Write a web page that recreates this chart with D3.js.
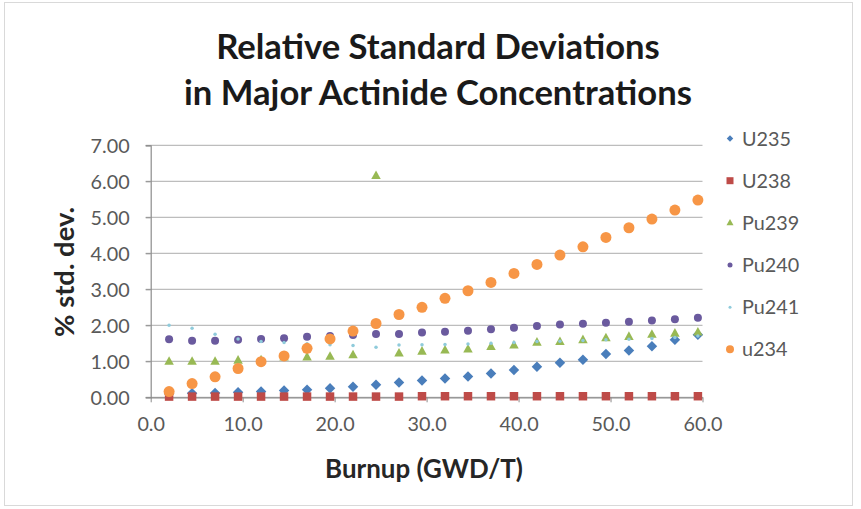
<!DOCTYPE html>
<html><head><meta charset="utf-8">
<script src="https://cdn.jsdelivr.net/npm/d3@7"></script>
<style>body{margin:0;background:#fff}svg{display:block}text{font-family:Lato,"Open Sans",sans-serif}</style>
</head><body>
<svg id="c" width="861" height="509"></svg>
<script>
const burnup = [2,4.5,7,9.5,12,14.5,17,19.5,22,24.5,27,29.5,32,34.5,37,39.5,42,44.5,47,49.5,52,54.5,57,59.5];
const U235  = [0.10,0.11,0.12,0.14,0.16,0.19,0.21,0.25,0.29,0.35,0.41,0.47,0.52,0.58,0.66,0.76,0.85,0.96,1.04,1.20,1.30,1.42,1.60,1.74];
const U238  = [0.02,0.02,0.02,0.02,0.02,0.02,0.02,0.02,0.02,0.02,0.02,0.03,0.03,0.03,0.03,0.03,0.03,0.03,0.03,0.03,0.03,0.03,0.03,0.03];
const Pu239 = [1.01,1.01,1.01,1.04,1.05,1.13,1.13,1.15,1.19,6.17,1.24,1.29,1.32,1.35,1.42,1.46,1.54,1.56,1.61,1.66,1.70,1.76,1.79,1.82];
const Pu240 = [1.61,1.57,1.57,1.60,1.62,1.64,1.68,1.70,1.73,1.76,1.76,1.80,1.82,1.85,1.89,1.93,1.98,2.02,2.04,2.07,2.10,2.13,2.17,2.21];
const Pu241 = [2.00,1.92,1.75,1.62,1.55,1.52,1.49,1.46,1.44,1.39,1.45,1.46,1.47,1.48,1.50,1.52,1.55,1.56,1.58,1.60,1.61,1.63,1.66,1.70];
const u234  = [0.16,0.38,0.57,0.80,0.99,1.15,1.36,1.62,1.84,2.05,2.30,2.50,2.75,2.96,3.19,3.44,3.69,3.95,4.18,4.44,4.71,4.95,5.20,5.48];
const seriesNames = ["U235","U238","Pu239","Pu240","Pu241","u234"];
const xTicks = [0,10,20,30,40,50,60];
const yTicks = [0,1,2,3,4,5,6,7];
const titleLines = ["Relative Standard Deviations","in Major Actinide Concentrations"];

const seriesValues = [U235,U238,Pu239,Pu240,Pu241,u234];
const styles = [
  {shape:"diamond", color:"#4A7EBB", size:10.5, lsize:6.5},
  {shape:"square", color:"#BE4B48", size:8.5, lsize:7},
  {shape:"triangle", color:"#98B954", size:9.5, lsize:7},
  {shape:"circle", color:"#6A5A9E", size:8, lsize:5},
  {shape:"circle", color:"#8FCBDB", size:3.5, lsize:3},
  {shape:"circle", color:"#F79646", size:11, lsize:8}
];

const svg = d3.select("#c");
svg.append("rect").attr("x",4.5).attr("y",2.5).attr("width",848).attr("height",503)
  .attr("fill","#fff").attr("stroke","#d9d9d9");

const x = d3.scaleLinear().domain([0,60]).range([150.7,702.5]);
const y = d3.scaleLinear().domain([0,7]).range([397.3,145.3]);

function fit(sel, target){
  sel.style("font-size","100px");
  const w = sel.node().getComputedTextLength();
  const fs = 100*target/w;
  sel.style("font-size", fs+"px");
  return fs;
}

const probe = svg.append("text").text("U238");
const baseFs = fit(probe, 49);
probe.remove();

// gridlines
svg.append("g").selectAll("line").data(yTicks).join("line")
  .attr("x1",145.7).attr("x2",702.5).attr("y1",d=>y(d)).attr("y2",d=>y(d))
  .attr("stroke","#bdbdbd").attr("stroke-width",1.2);

// y axis
const gy = svg.append("g").attr("transform","translate(150.7,0)")
  .call(d3.axisLeft(y).tickValues(yTicks).tickFormat(d3.format(".2f")).tickSize(5).tickPadding(16));
gy.select(".domain").attr("stroke","#8c8c8c").attr("stroke-width",1.2);
gy.selectAll(".tick line").attr("stroke","#8c8c8c");
gy.selectAll(".tick text").attr("fill","#595959").style("font-size",baseFs+"px")
  .style("font-family","Lato,sans-serif").attr("dy","0.36em");

// x axis
const gx = svg.append("g").attr("transform","translate(0,397.3)")
  .call(d3.axisBottom(x).tickValues(xTicks).tickFormat(d3.format(".1f")).tickSize(5).tickSizeOuter(0).tickPadding(22));
gx.select(".domain").attr("stroke","#8c8c8c").attr("stroke-width",1.2);
gx.selectAll(".tick line").attr("stroke","#8c8c8c");
gx.selectAll(".tick text").attr("fill","#595959").style("font-size",baseFs+"px")
  .style("font-family","Lato,sans-serif").attr("dy","0.36em");

function symbolFor(st, sz){
  const h = sz/2;
  if (st.shape==="diamond") return `M0,${-h}L${h},0L0,${h}L${-h},0Z`;
  if (st.shape==="square") return `M${-h},${-h}H${h}V${h}H${-h}Z`;
  if (st.shape==="triangle") return `M0,${-h}L${h},${h*0.8}L${-h},${h*0.8}Z`;
  return d3.symbol().type(d3.symbolCircle).size(Math.PI*h*h)();
}

// points
seriesValues.forEach((vals,i)=>{
  const st = styles[i];
  const path = symbolFor(st, st.size);
  svg.append("g").selectAll("path").data(vals).join("path")
    .attr("d", path)
    .attr("transform",(d,j)=>`translate(${x(burnup[j])},${y(d)})`)
    .attr("fill", st.color);
});

// legend
const legY = [138.5,180.7,222.5,265,307.3,349.3];
const lg = svg.append("g");
seriesNames.forEach((n,i)=>{
  const st = styles[i];
  lg.append("path").attr("d", symbolFor(st, st.lsize)).attr("transform",`translate(730,${legY[i]})`).attr("fill",st.color);
  lg.append("text").attr("x",742).attr("y",legY[i]).attr("dy","0.36em").attr("fill","#595959")
    .style("font-size",baseFs+"px").text(n);
});

// title
const t1 = svg.append("text").attr("x",438).attr("y",47).attr("dy","0.36em").attr("text-anchor","middle")
  .attr("font-weight","bold").attr("fill","#1a1a1a").text(titleLines[1]);
const tfs = fit(t1, 508);
t1.attr("y",93);
svg.append("text").attr("x",438).attr("y",47).attr("dy","0.36em").attr("text-anchor","middle")
  .attr("font-weight","bold").attr("fill","#1a1a1a").style("font-size",tfs+"px").text(titleLines[0]);

// axis titles
const xt = svg.append("text").attr("x",424).attr("y",469).attr("dy","0.36em").attr("text-anchor","middle")
  .attr("font-weight","bold").attr("fill","#262626").text("Burnup (GWD/T)");
fit(xt, 198);
const yt = svg.append("text").attr("transform","translate(64,272) rotate(-90)").attr("dy","0.36em")
  .attr("text-anchor","middle").attr("font-weight","bold").attr("fill","#262626").text("% std. dev.");
fit(yt, 130);
</script>
</body></html>
